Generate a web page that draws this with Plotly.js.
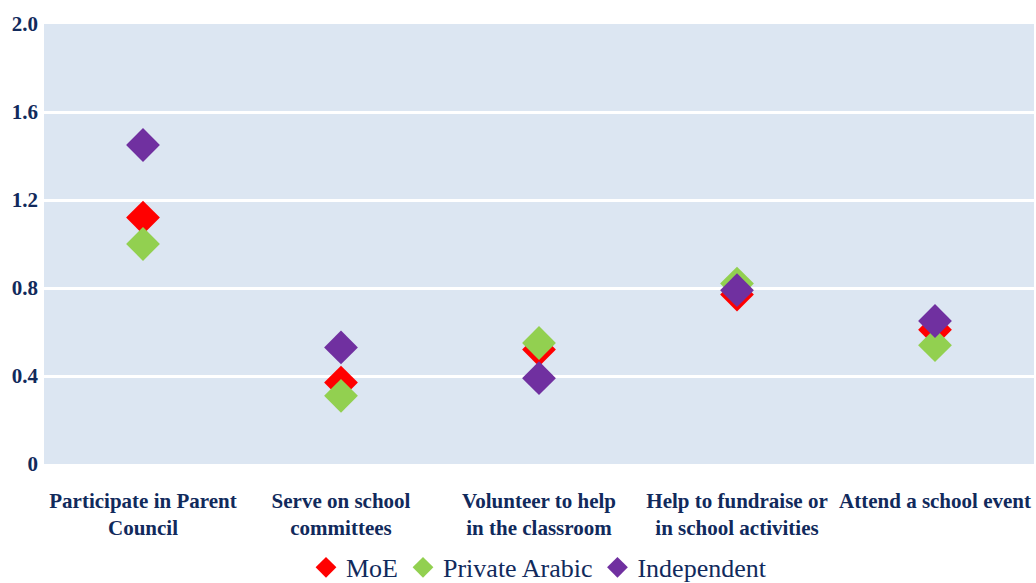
<!DOCTYPE html>
<html>
<head>
<meta charset="utf-8">
<script src="https://cdn.plot.ly/plotly-3.0.1.min.js"></script>
<style>html,body{margin:0;padding:0;background:#fff;}#chart{width:1036px;height:583px;}</style>
</head>
<body>
<div id="chart"></div>
<script>
const categories = [
  "Participate in Parent<br>Council",
  "Serve on school<br>committees",
  "Volunteer to help<br>in the classroom",
  "Help to fundraise or<br>in school activities",
  "Attend a school event"
];
const moeValues = [1.12, 0.37, 0.52, 0.77, 0.61];
const privateArabicValues = [1.00, 0.31, 0.55, 0.82, 0.54];
const independentValues = [1.45, 0.53, 0.39, 0.79, 0.65];
const seriesNames = ["MoE", "Private Arabic", "Independent"];
const yTickVals = [0, 0.4, 0.8, 1.2, 1.6, 2.0];
const yTickText = ["0", "0.4", "0.8", "1.2", "1.6", "2.0"];

const FONT = "Liberation Serif, Times New Roman, serif";
const NAVY = "#112a5c";

function series(name, vals, color) {
  return {
    type: "scatter", mode: "markers", name: name,
    x: categories, y: vals,
    marker: {symbol: "diamond", size: 26, color: color, line: {width: 0}},
    cliponaxis: false
  };
}

const data = [
  series(seriesNames[0], moeValues, "#ff0000"),
  series(seriesNames[1], privateArabicValues, "#92d050"),
  series(seriesNames[2], independentValues, "#7030a0")
];

const layout = {
  width: 1036, height: 583,
  margin: {l: 44, r: 2, t: 24, b: 119, autoexpand: false},
  paper_bgcolor: "#ffffff",
  plot_bgcolor: "#dce6f2",
  showlegend: true,
  font: {family: FONT, color: NAVY},
  xaxis: {
    type: "category",
    range: [-0.5, 4.5],
    automargin: false,
    showgrid: false, zeroline: false, showline: false,
    ticks: "", ticklabelstandoff: 22,
    tickfont: {family: FONT, size: 21, color: NAVY, weight: "bold"}
  },
  yaxis: {
    range: [0, 2.0],
    automargin: false,
    tickvals: yTickVals, ticktext: yTickText,
    showgrid: true, gridcolor: "#ffffff", gridwidth: 3,
    zeroline: false, showline: false, ticks: "",
    ticklabelstandoff: 5,
    tickfont: {family: FONT, size: 21, color: NAVY, weight: "bold"}
  },
  legend: {
    orientation: "h", x: 0.5, xanchor: "center",
    y: -0.235, yanchor: "middle",
    font: {family: FONT, size: 26, color: NAVY},
    itemwidth: 30, bgcolor: "rgba(0,0,0,0)"
  },
  hovermode: false
};

Plotly.newPlot("chart", data, layout, {displayModeBar: false, staticPlot: true});
</script>
</body>
</html>
